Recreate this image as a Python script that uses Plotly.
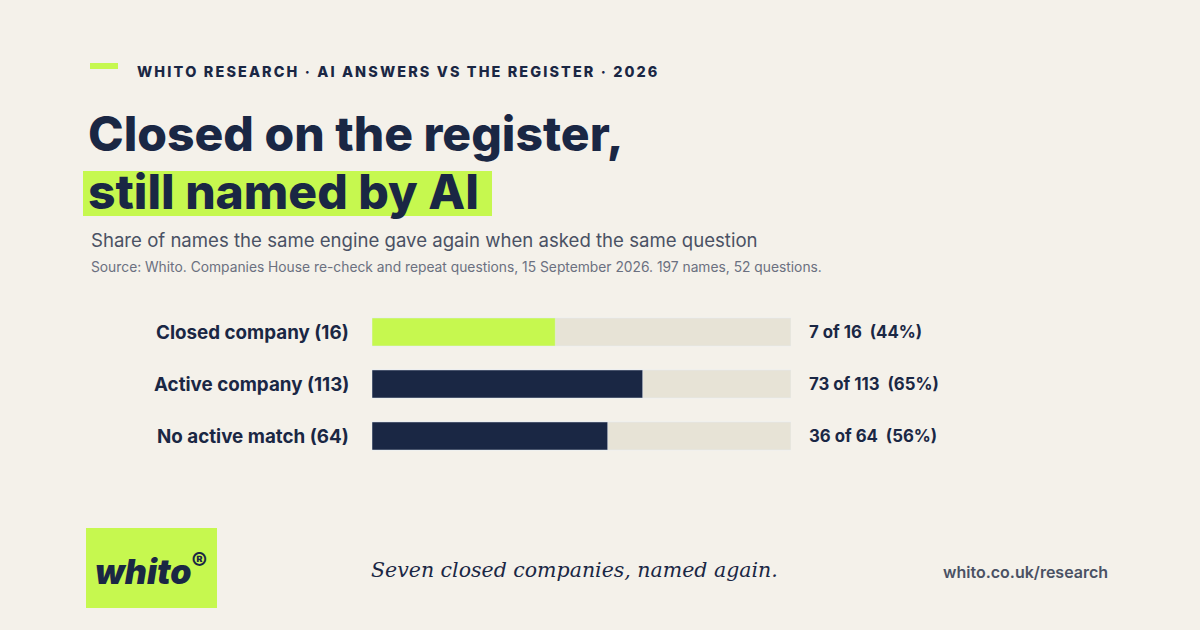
import plotly.graph_objects as go

categories = ["Closed company (16)", "Active company (113)", "No active match (64)"]
repeated = [7, 73, 36]
totals = [16, 113, 64]
colors = ["#c6f84f", "#1a2744", "#1a2744"]

W, H = 1200, 630
NAVY = "#1a2744"
LIME = "#c6f84f"
BG = "#f4f1ea"
FONT = "Inter"

shares = [r / t * 100 for r, t in zip(repeated, totals)]

fig = go.Figure()
fig.add_trace(go.Bar(y=categories, x=[100] * 3, orientation="h", marker_color="#e7e3d6",
                     width=0.54, hoverinfo="skip", showlegend=False))
fig.add_trace(go.Bar(y=categories, x=shares, orientation="h", marker_color=colors,
                     width=0.54, showlegend=False))

def py(p):
    return 1 - p / H
def px(p):
    return p / W

shapes = [
    dict(type="rect", xref="paper", yref="paper", x0=px(90), x1=px(118), y0=py(69), y1=py(63),
         fillcolor=LIME, line_width=0, layer="below"),
    dict(type="rect", xref="paper", yref="paper", x0=px(83), x1=px(492), y0=py(216), y1=py(171),
         fillcolor=LIME, line_width=0, layer="below"),
    dict(type="rect", xref="paper", yref="paper", x0=px(86), x1=px(217), y0=py(608), y1=py(528),
         fillcolor=LIME, line_width=0, layer="below"),
]

def A(x, y, text, size, color=NAVY, weight=400, anchor="left", family=FONT):
    return dict(x=px(x), y=py(y), xref="paper", yref="paper", text=text, showarrow=False,
                font=dict(size=size, color=color, family=family, weight=weight),
                xanchor=anchor, yanchor="middle")

header = "\u2009".join("WHITO RESEARCH · AI ANSWERS VS THE REGISTER · 2026")

ann = [
    A(135, 71, header, 14.4, weight=800),
    A(86, 133, "Closed on the register,", 48, weight=800),
    A(86, 191, "still named by AI", 48, weight=800),
    A(89, 240, "Share of names the same engine gave again when asked the same question", 18.6, "#4a5164"),
    A(89, 267, "Source: Whito. Companies House re-check and repeat questions, 15 September 2026. 197 names, 52 questions.", 13.8, "#6b7080"),
    A(151, 569, "<i>whito</i><sup>®</sup>", 34, weight=900, anchor="center"),
    A(574, 570, "<i>Seven closed companies, named again.</i>", 20.5, anchor="center", family="DejaVu Serif"),
    A(1110, 572, "whito.co.uk/research", 16, "#4a5164", weight=600, anchor="right"),
]
for c, r, t, s in zip(categories, repeated, totals, shares):
    ann.append(dict(x=px(351), y=c, yref="y", xref="paper", text=c, xanchor="right", yanchor="middle",
                    showarrow=False, font=dict(size=18.8, color=NAVY, family=FONT, weight=700)))
    ann.append(dict(x=px(807), y=c, yref="y", xref="paper", text=f"{r} of {t}  ({s:.0f}%)",
                    xanchor="left", yanchor="middle", showarrow=False,
                    font=dict(size=16.8, color=NAVY, family=FONT, weight=700)))

fig.update_layout(
    width=W, height=H, margin=dict(l=0, r=0, t=0, b=0),
    paper_bgcolor=BG, plot_bgcolor=BG, barmode="overlay",
    xaxis=dict(domain=[px(372), px(791)], range=[0, 100], visible=False, fixedrange=True),
    yaxis=dict(domain=[py(462), py(306)], range=[2.5, -0.5], visible=False,
               categoryorder="array", categoryarray=categories),
    shapes=shapes, annotations=ann,
)
fig.write_html("out.html", config={"displayModeBar": False},
               post_script="document.body.style.margin='0';document.body.style.background='#f4f1ea';")
